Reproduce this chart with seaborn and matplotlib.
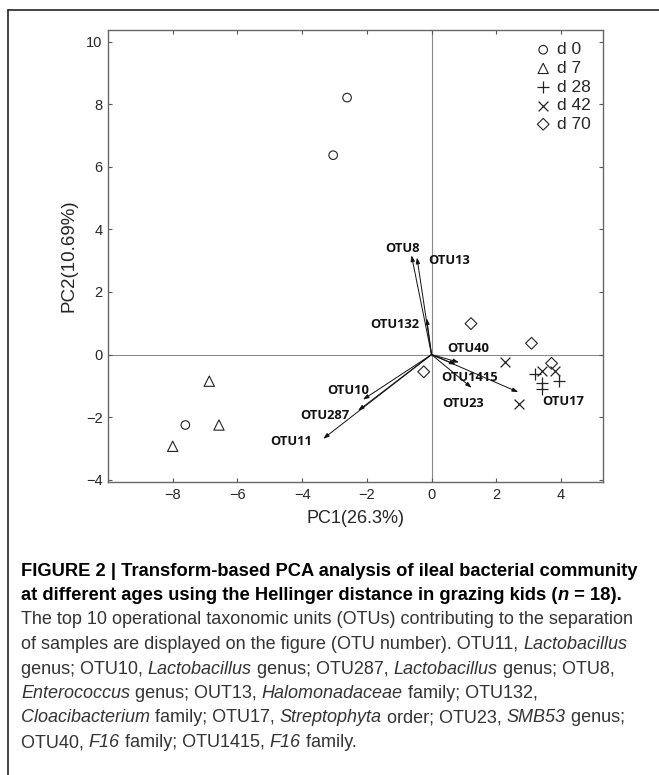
import numpy as np
import pandas as pd
import matplotlib
matplotlib.use("Agg")
import matplotlib.pyplot as plt
import seaborn as sns

# sample scores (PC1, PC2)
days = ["d 0"] * 3 + ["d 7"] * 3 + ["d 28"] * 4 + ["d 42"] * 4 + ["d 70"] * 4
pc1 = [-2.61, -3.04, -7.61,
       -6.87, -6.57, -8.00,
       3.20, 3.42, 3.42, 3.95,
       2.28, 3.43, 3.82, 2.70,
       1.22, 3.09, 3.71, -0.24]
pc2 = [8.21, 6.37, -2.25,
       -0.85, -2.25, -2.93,
       -0.62, -0.92, -1.11, -0.85,
       -0.24, -0.52, -0.52, -1.59,
       0.99, 0.36, -0.28, -0.55]

# OTU loading arrows (tip coordinates) and label positions
otus = ["OTU8", "OTU13", "OTU132", "OTU40", "OTU1415", "OTU23", "OTU17",
        "OTU10", "OTU287", "OTU11"]
otu_x = [-0.62, -0.45, -0.15, 0.85, 0.75, 1.24, 2.68, -2.12, -2.27, -3.35]
otu_y = [3.17, 3.10, 1.16, -0.25, -0.32, -1.06, -1.20, -1.44, -1.79, -2.69]
lab_x = [-0.90, 0.54, -1.13, 1.13, 1.18, 0.96, 4.06, -2.59, -3.30, -4.34]
lab_y = [3.38, 3.01, 0.95, 0.18, -0.73, -1.56, -1.50, -1.15, -1.95, -2.79]

day_order = ["d 0", "d 7", "d 28", "d 42", "d 70"]
markers = {"d 0": "o", "d 7": "^", "d 28": "+", "d 42": "x", "d 70": "D"}
sizes = {"d 0": 38, "d 7": 55, "d 28": 80, "d 42": 50, "d 70": 36}

# caption lines; *...* marks italic pieces
caption_bold = [
    "FIGURE 2 | Transform-based PCA analysis of ileal bacterial community",
    "at different ages using the Hellinger distance in grazing kids (*n* = 18).",
]
caption_body = [
    "The top 10 operational taxonomic units (OTUs) contributing to the separation",
    "of samples are displayed on the figure (OTU number). OTU11, *Lactobacillus*",
    "genus; OTU10, *Lactobacillus* genus; OTU287, *Lactobacillus* genus; OTU8,",
    "*Enterococcus* genus; OUT13, *Halomonadaceae* family; OTU132,",
    "*Cloacibacterium* family; OTU17, *Streptophyta* order; OTU23, *SMB53* genus;",
    "OTU40, *F16* family; OTU1415, *F16* family.",
]

df = pd.DataFrame({"day": days, "PC1": pc1, "PC2": pc2})

sns.set_style("white")
plt.rcParams["font.family"] = ["Liberation Sans", "DejaVu Sans"]

fig = plt.figure(figsize=(6.59, 7.75), dpi=100)
ax = fig.add_axes([0.1639, 0.3781, 0.7511, 0.5832])

ax.axhline(0, color="#8a8a8a", lw=0.8, zorder=0)
ax.axvline(0, color="#8a8a8a", lw=0.8, zorder=0)

for d in day_order:
    sub = df[df["day"] == d]
    m = markers[d]
    if m in ("+", "x"):
        sns.scatterplot(data=sub, x="PC1", y="PC2", marker=m, color="#222222",
                        s=sizes[d], linewidth=0.9, label=d, ax=ax)
    else:
        sns.scatterplot(data=sub, x="PC1", y="PC2", marker=m, facecolor="none",
                        edgecolor="#222222", s=sizes[d], linewidth=0.8, label=d, ax=ax)

for name, x, y, tx, ty in zip(otus, otu_x, otu_y, lab_x, lab_y):
    ax.annotate("", xy=(x, y), xytext=(0, 0),
                arrowprops=dict(arrowstyle="-|>,head_length=0.35,head_width=0.12",
                                color="#111111", lw=0.7, shrinkA=0, shrinkB=0))
    ax.text(tx, ty, name, ha="center", va="center", fontsize=9.3,
            fontweight="bold", family=["Open Sans", "DejaVu Sans"], color="#111111")

ax.set_xlim(-10.0, 5.3)
ax.set_ylim(-4.07, 10.37)
ax.set_xticks([-8, -6, -4, -2, 0, 2, 4])
ax.set_yticks([-4, -2, 0, 2, 4, 6, 8, 10])
ax.set_xticklabels(["\u22128", "\u22126", "\u22124", "\u22122", "0", "2", "4"])
ax.set_yticklabels(["\u22124", "\u22122", "0", "2", "4", "6", "8", "10"])
ax.tick_params(direction="in", length=3, width=0.8, color="#555555",
               labelsize=10.5, top=True, right=True, bottom=True, left=True,
               pad=4)
for sp in ax.spines.values():
    sp.set_color("#666666")
    sp.set_linewidth(1.0)

ax.set_xlabel("PC1(26.3%)", fontsize=13, labelpad=6)
ax.set_ylabel("PC2(10.69%)", fontsize=13.5, labelpad=6)

leg = ax.legend(loc="upper right", frameon=False, fontsize=12.5,
                handletextpad=0.3, labelspacing=0.2, borderaxespad=0.3,
                handlelength=1.0)

# outer frame of the figure panel
fig.add_artist(plt.Line2D([8 / 659, 8 / 659], [1 - 10 / 775, 0], color="#222222", lw=1.2))
fig.add_artist(plt.Line2D([8 / 659, 1], [1 - 10 / 775, 1 - 10 / 775], color="#222222", lw=1.2))

renderer = fig.canvas.get_renderer()


def rich_line(x_px, y_px, line, size, weight, color):
    # draw a line piece by piece, switching to italic between asterisks
    parts = line.split("*")
    x = x_px
    for k, part in enumerate(parts):
        if not part:
            continue
        t = fig.text(x / 659, 1 - y_px / 775, part, ha="left", va="center",
                     fontsize=size, fontweight=weight, color=color,
                     fontstyle="italic" if k % 2 else "normal",
                     family=["Liberation Sans", "DejaVu Sans"])
        bb = t.get_window_extent(renderer=renderer)
        x += bb.width


y0 = 571
step = 24.5
for i, line in enumerate(caption_bold):
    rich_line(21, y0 + i * step, line, 13.2, "bold", "black")
for i, line in enumerate(caption_body):
    rich_line(21, y0 + (i + 2) * step, line, 13, "normal", "#333333")

fig.savefig("out.png", dpi=100)
